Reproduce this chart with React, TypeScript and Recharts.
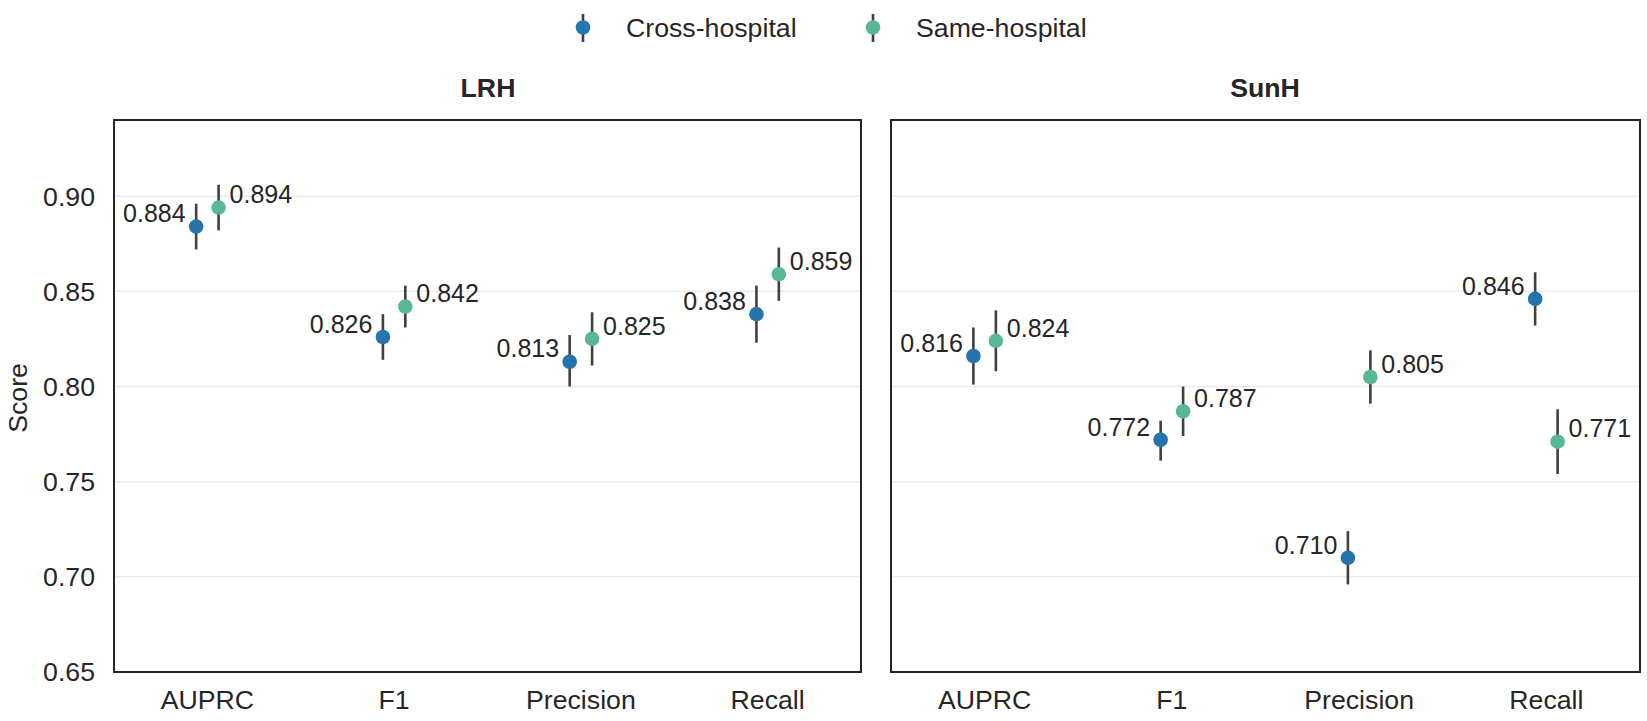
import React from 'react'
import {
  ScatterChart,
  Scatter,
  XAxis,
  YAxis,
  CartesianGrid,
  ErrorBar,
  ReferenceArea
} from 'recharts'

const metrics = ['AUPRC', 'F1', 'Precision', 'Recall']
const yTicks = [0.65, 0.7, 0.75, 0.8, 0.85, 0.9]

const lrhCross = [0.884, 0.826, 0.813, 0.838]
const lrhCrossLo = [0.872, 0.814, 0.8, 0.823]
const lrhCrossHi = [0.896, 0.838, 0.827, 0.853]
const lrhSame = [0.894, 0.842, 0.825, 0.859]
const lrhSameLo = [0.882, 0.831, 0.811, 0.845]
const lrhSameHi = [0.906, 0.853, 0.839, 0.873]

const sunCross = [0.816, 0.772, 0.71, 0.846]
const sunCrossLo = [0.801, 0.761, 0.696, 0.832]
const sunCrossHi = [0.831, 0.782, 0.724, 0.86]
const sunSame = [0.824, 0.787, 0.805, 0.771]
const sunSameLo = [0.808, 0.774, 0.791, 0.754]
const sunSameHi = [0.84, 0.8, 0.819, 0.788]

const CROSS = '#2474ae'
const SAME = '#57b893'
const INK = '#262626'
const FONT = '"Liberation Sans", Arial, sans-serif'
const DODGE = 0.06
const BIG = 26.7

const toPoints = (vals: number[], lo: number[], hi: number[], shift: number) =>
  vals.map((v, i) => ({ x: i + shift, y: v, err: [v - lo[i], hi[i] - v] }))

const makeShape = (color: string, side: 'left' | 'right') => (props: any) => {
  const { cx, cy, payload } = props
  return (
    <g>
      <circle cx={cx} cy={cy} r={7.3} fill={color} />
      <text
        x={side === 'left' ? cx - 10.5 : cx + 11}
        y={cy - 13}
        dy="0.35em"
        textAnchor={side === 'left' ? 'end' : 'start'}
        fontSize={25}
        fill={INK}
        fontFamily={FONT}
      >
        {payload.y.toFixed(3)}
      </text>
    </g>
  )
}

interface PanelProps {
  cross: any[]
  same: any[]
  showY: boolean
  width: number
  margin: { top: number; right: number; bottom: number; left: number }
}

const Panel: React.FC<PanelProps> = ({ cross, same, showY, width, margin }) => (
  <ScatterChart width={width} height={721} margin={margin}>
    <CartesianGrid vertical={false} stroke="#ebebeb" strokeWidth={1.5} />
    <XAxis
      type="number"
      dataKey="x"
      domain={[-0.5, 3.5]}
      ticks={[0, 1, 2, 3]}
      tickFormatter={(i: number) => metrics[i]}
      allowDataOverflow
      height={49}
      axisLine={false}
      tickLine={false}
      tickSize={0}
      tickMargin={18}
      tick={{ fontSize: BIG, fill: INK, fontFamily: FONT }}
    />
    <YAxis
      type="number"
      dataKey="y"
      domain={[0.65, 0.94]}
      ticks={yTicks}
      allowDataOverflow
      hide={!showY}
      width={114}
      axisLine={false}
      tickLine={false}
      tickSize={0}
      tickMargin={19}
      tickFormatter={(v: number) => v.toFixed(2)}
      tick={{ fontSize: BIG, fill: INK, fontFamily: FONT }}
    />
    <ReferenceArea
      x1={-0.5}
      x2={3.5}
      y1={0.65}
      y2={0.94}
      fill="none"
      stroke={INK}
      strokeWidth={2}
      strokeOpacity={1}
      fillOpacity={0}
      ifOverflow="visible"
    />
    <Scatter data={cross} shape={makeShape(CROSS, 'left')} isAnimationActive={false}>
      <ErrorBar dataKey="err" direction="y" width={0} stroke="#404040" strokeWidth={2.6} />
    </Scatter>
    <Scatter data={same} shape={makeShape(SAME, 'right')} isAnimationActive={false}>
      <ErrorBar dataKey="err" direction="y" width={0} stroke="#404040" strokeWidth={2.6} />
    </Scatter>
  </ScatterChart>
)

const LegendItem = ({ color, label, x }: { color: string; label: string; x: number }) => (
  <div style={{ position: 'absolute', left: x - 10, top: 10, display: 'flex', alignItems: 'center' }}>
    <svg width={20} height={36}>
      <line x1={10} x2={10} y1={4} y2={32} stroke="#404040" strokeWidth={2.6} />
      <circle cx={10} cy={17.5} r={7.3} fill={color} />
    </svg>
    <span style={{ marginLeft: 33, fontSize: BIG, color: INK, lineHeight: '36px' }}>{label}</span>
  </div>
)

export default function App() {
  const lrhC = toPoints(lrhCross, lrhCrossLo, lrhCrossHi, -DODGE)
  const lrhS = toPoints(lrhSame, lrhSameLo, lrhSameHi, DODGE)
  const sunC = toPoints(sunCross, sunCrossLo, sunCrossHi, -DODGE)
  const sunS = toPoints(sunSame, sunSameLo, sunSameHi, DODGE)

  return (
    <div
      style={{
        position: 'absolute',
        left: 0,
        top: 0,
        width: 1647,
        height: 721,
        background: '#fff',
        fontFamily: FONT,
        color: INK
      }}
    >
      <LegendItem color={CROSS} label="Cross-hospital" x={583} />
      <LegendItem color={SAME} label="Same-hospital" x={873} />

      <div style={{ position: 'absolute', left: 388, width: 200, top: 73, textAlign: 'center', fontSize: BIG, fontWeight: 'bold' }}>
        LRH
      </div>
      <div style={{ position: 'absolute', left: 1165, width: 200, top: 73, textAlign: 'center', fontSize: BIG, fontWeight: 'bold' }}>
        SunH
      </div>

      <div
        style={{
          position: 'absolute',
          left: 18,
          top: 398,
          fontSize: BIG,
          lineHeight: 1,
          transform: 'translate(-50%, -50%) rotate(-90deg)',
          whiteSpace: 'nowrap'
        }}
      >
        Score
      </div>

      <div style={{ position: 'absolute', left: 0, top: 0 }}>
        <Panel cross={lrhC} same={lrhS} showY width={880} margin={{ top: 120, right: 19, bottom: 0, left: 0 }} />
      </div>
      <div style={{ position: 'absolute', left: 880, top: 0 }}>
        <Panel cross={sunC} same={sunS} showY={false} width={767} margin={{ top: 120, right: 7, bottom: 0, left: 11 }} />
      </div>
    </div>
  )
}
